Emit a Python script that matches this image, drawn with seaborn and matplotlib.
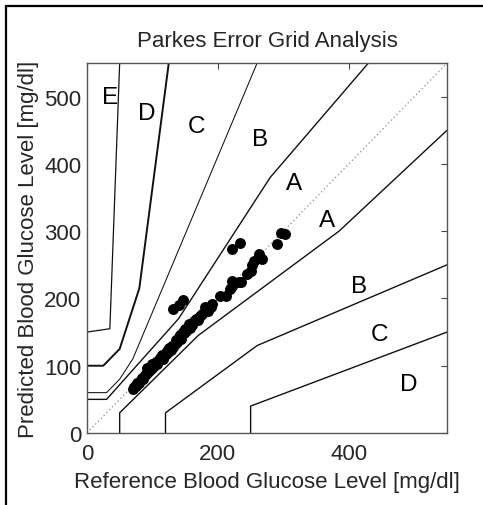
import numpy as np
import pandas as pd
import matplotlib
matplotlib.use("Agg")
import matplotlib.pyplot as plt
import seaborn as sns
from matplotlib.lines import Line2D

# ---- data ----
ref_vals = [70, 72, 75, 77, 80, 82, 84, 86, 88, 90, 92, 94, 96, 98, 100, 100, 103, 105, 107, 110,
            112, 114, 116, 118, 120, 122, 124, 126, 128, 130, 132, 134, 136, 138, 140, 142, 144,
            146, 148, 150, 152, 154, 156, 158, 160, 163, 166, 170, 173, 176, 181, 185, 189, 191,
            132, 140, 147,
            204, 212, 219, 222, 222, 232, 235, 245, 250, 252, 255, 263, 268, 291, 296, 303,
            222, 234]
pred_vals = [65, 68, 70, 74, 75, 79, 82, 80, 86, 88, 96, 90, 94, 98, 102, 96, 100, 106, 103, 108,
             112, 116, 110, 114, 118, 122, 120, 126, 124, 130, 128, 133, 138, 136, 142, 146, 140,
             150, 148, 155, 152, 158, 162, 156, 160, 167, 170, 168, 174, 177, 187, 182, 188, 192,
             184, 191, 197,
             204, 204, 214, 226, 218, 224, 225, 236, 241, 249, 256, 266, 258, 281, 298, 296,
             274, 283]

zone_lines = {
    "upper_A": ([0, 30, 140, 280, 430], [50, 50, 170, 380, 550], 1.0),
    "upper_B": ([0, 30, 50, 70, 260], [60, 60, 80, 110, 550], 0.75),
    "upper_C": ([0, 25, 50, 80, 125], [100, 100, 125, 215, 550], 1.4),
    "upper_D": ([0, 35, 50], [150, 155, 550], 0.9),
    "lower_A": ([50, 50, 170, 385, 550], [0, 30, 145, 300, 450], 1.0),
    "lower_B": ([120, 120, 260, 550], [0, 30, 130, 250], 1.0),
    "lower_C": ([250, 250, 550], [0, 40, 150], 1.0),
}

zone_labels = ["E", "D", "C", "B", "A", "A", "B", "C", "D"]
label_x = [35, 91, 167, 265, 316, 366, 415, 447, 492]
label_y = [500, 476, 457, 437, 371, 316, 218, 147, 73]

xticks = [0, 200, 400]
yticks = [0, 100, 200, 300, 400, 500]

# ---- plot ----
sns.set_style("white")
plt.rcParams["font.family"] = ["Liberation Sans", "DejaVu Sans"]

fig = plt.figure(figsize=(4.83, 5.06), dpi=100)
ax = fig.add_axes([0.180, 0.1423, 0.7455, 0.7312])

for name, (xs, ys, lw) in zone_lines.items():
    df = pd.DataFrame({"x": xs, "y": ys})
    sns.lineplot(data=df, x="x", y="y", sort=False, estimator=None, color="#111111",
                 linewidth=lw, ax=ax)

diag = pd.DataFrame({"x": [0, 550], "y": [0, 550]})
sns.lineplot(data=diag, x="x", y="y", color="#888888", linestyle=(0, (1, 2.2)),
             linewidth=0.9, ax=ax)

pts = pd.DataFrame({"ref": ref_vals, "pred": pred_vals})
sns.scatterplot(data=pts, x="ref", y="pred", color="black", s=62, edgecolor="black",
                linewidth=0, ax=ax, zorder=5)

for t, xv, yv in zip(zone_labels, label_x, label_y):
    ax.text(xv, yv, t, ha="center", va="center", fontsize=17.5, color="black")

ax.set_xlim(0, 550)
ax.set_ylim(0, 550)
ax.set_xticks(xticks)
ax.set_yticks(yticks)
ax.tick_params(direction="in", length=4, width=0.8, top=True, right=True,
               labelsize=16, color="#444444", pad=4)
ax.tick_params(axis="x", pad=7)
for sp in ax.spines.values():
    sp.set_color("#555555")
    sp.set_linewidth(1.0)

ax.set_title("Parkes Error Grid Analysis", fontsize=16, pad=12)
ax.set_xlabel("Reference Blood Glucose Level [mg/dl]", fontsize=16, labelpad=5)
ax.set_ylabel("Predicted Blood Glucose Level [mg/dl]", fontsize=16, labelpad=4)

# partial figure frame (left and top edges)
fig.add_artist(Line2D([6 / 483, 6 / 483], [0, 1 - 7 / 506], transform=fig.transFigure,
                      color="black", linewidth=1.6))
fig.add_artist(Line2D([6 / 483, 1], [1 - 7 / 506, 1 - 7 / 506], transform=fig.transFigure,
                      color="black", linewidth=1.6))

fig.savefig("out.png", dpi=100)
